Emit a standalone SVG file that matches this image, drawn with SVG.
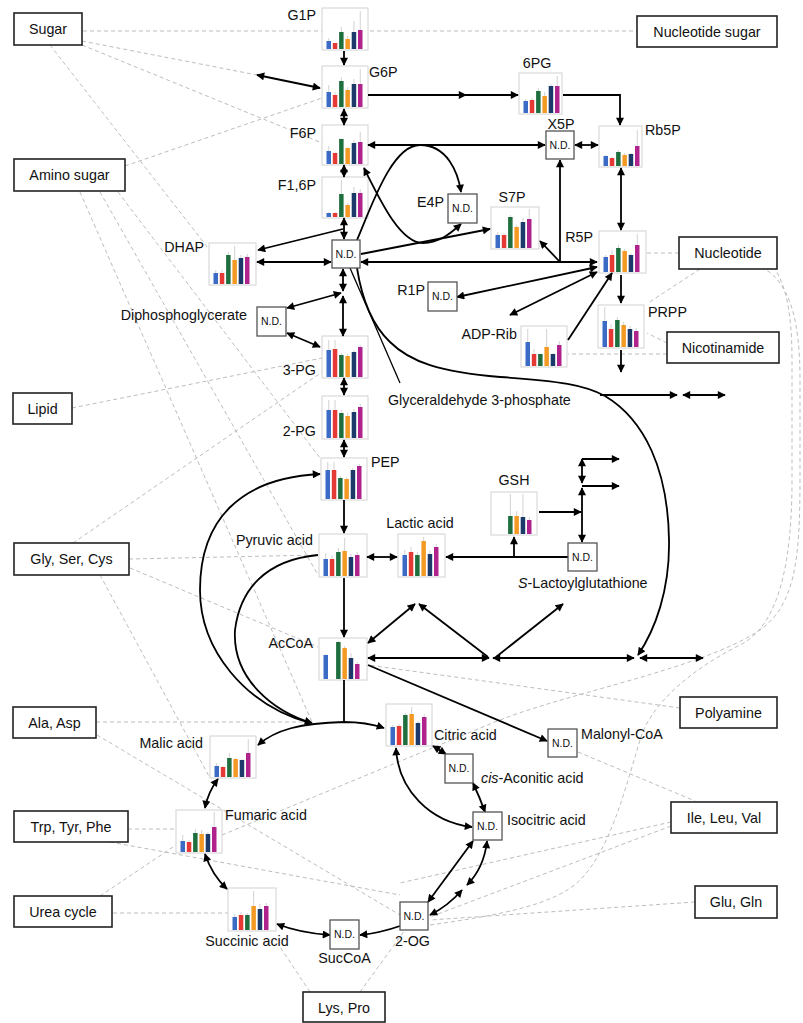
<svg xmlns="http://www.w3.org/2000/svg" width="803" height="1023" viewBox="0 0 803 1023">
<style>
text{font-family:"Liberation Sans",Arial,sans-serif;font-size:14.3px;fill:#111}
.nd text,text.nd{font-size:10.5px}
.cb{fill:#fff;stroke:#d2d2d2;stroke-width:1}
.er{stroke:#c6c6c6;stroke-width:0.8;fill:none}
.s1{stroke:#3b6bc4;stroke-width:4.5}.s2{stroke:#e53935;stroke-width:4.5}.s3{stroke:#1e6e3e;stroke-width:4.5}
.s4{stroke:#f29a24;stroke-width:4.5}.s5{stroke:#1b3a6a;stroke-width:4.5}.s6{stroke:#b0238c;stroke-width:4.5}
.ndb{fill:#fff;stroke:#555;stroke-width:1.3}
.lb{fill:#fff;stroke:#222;stroke-width:1.6}
.c{fill:none;stroke:#000;stroke-width:1.8}
.e{marker-end:url(#ah)}.b{marker-start:url(#ah);marker-end:url(#ah)}
.d{fill:none;stroke:#bdbdbd;stroke-width:1;stroke-dasharray:4 3}
</style>
<defs>
<marker id="ah" viewBox="0 0 10 10" refX="9" refY="5" markerWidth="9" markerHeight="8" markerUnits="userSpaceOnUse" orient="auto-start-reverse"><path d="M0,0L10,5L0,10z" fill="#000"/></marker>
</defs>

<g id="dashed">
<path class="d" d="M83,31L637,31"/>
<path class="d" d="M82,41L257,75"/>
<path class="d" d="M82,45L322,143"/>
<path class="d" d="M50,45L208,248"/>
<path class="d" d="M125,166L322,98"/>
<path class="d" d="M80,192L312,722"/>
<path class="d" d="M100,192L318,575"/>
<path class="d" d="M118,192L320,458"/>
<path class="d" d="M72,408L322,358"/>
<path class="d" d="M129,559L318,555"/>
<path class="d" d="M130,568L318,647"/>
<path class="d" d="M73,543L322,372"/>
<path class="d" d="M100,575L210,778"/>
<path class="d" d="M96,722L310,722"/>
<path class="d" d="M97,735L400,915"/>
<path class="d" d="M128,829L176,829"/>
<path class="d" d="M110,842L400,895"/>
<path class="d" d="M113,913L228,913"/>
<path class="d" d="M100,896L176,845"/>
<path class="d" d="M310,992L280,947"/>
<path class="d" d="M360,992L405,930"/>
<path class="d" d="M679,253L647,253"/>
<path class="d" d="M700,269L648,303"/>
<path class="d" d="M667,343L647,333"/>
<path class="d" d="M667,354L568,354"/>
<path class="d" d="M680,708L368,665"/>
<path class="d" d="M578,752L695,801"/>
<path class="d" d="M671,822L400,883"/>
<path class="d" d="M671,826L430,917"/>
<path class="d" d="M695,902L430,920"/>
<path class="d" d="M222,835L490,724C560,694 700,670 760,630C795,605 800,560 800,480L800,380C800,320 790,285 765,269"/>
<path class="d" d="M430,925C500,915 555,905 580,880C610,850 625,790 640,740C650,705 690,670 740,645C780,625 792,560 792,480L792,360C792,310 785,285 775,269"/>
</g>

<g id="charts">
<g id="G1P" transform="translate(322,8)"><rect class="cb" width="46" height="42"/><path class="er" d="M6.75,30V41M19.35,19V41M25.65,28V41M31.95,13V41M38.25,3V41"/><path class="s1" d="M6.75,41V33"/><path class="s2" d="M13.05,41V35"/><path class="s3" d="M19.35,41V24"/><path class="s4" d="M25.65,41V31"/><path class="s5" d="M31.95,41V24"/><path class="s6" d="M38.25,41V22"/></g>
<g id="G6P" transform="translate(322,66)"><rect class="cb" width="46" height="42"/><path class="er" d="M6.75,19V41M13.05,26V41M19.35,11V41M25.65,21V41M31.95,13V41M38.25,3V41"/><path class="s1" d="M6.75,41V26"/><path class="s2" d="M13.05,41V29"/><path class="s3" d="M19.35,41V15"/><path class="s4" d="M25.65,41V24"/><path class="s5" d="M31.95,41V18"/><path class="s6" d="M38.25,41V18"/></g>
<g id="F6P" transform="translate(322,125)"><rect class="cb" width="46" height="40"/><path class="er" d="M6.75,21V39M13.05,27V39M19.35,13V39M25.65,22V39M31.95,15V39M38.25,7V39"/><path class="s1" d="M6.75,39V26"/><path class="s2" d="M13.05,39V28"/><path class="s3" d="M19.35,39V14"/><path class="s4" d="M25.65,39V23"/><path class="s5" d="M31.95,39V18"/><path class="s6" d="M38.25,39V17"/></g>
<g id="F16P" transform="translate(322,177)"><rect class="cb" width="46" height="41"/><path class="er" d="M6.75,35V40M13.05,35V40M19.35,3V40M25.65,26V40M31.95,10V40M38.25,12V40"/><path class="s1" d="M6.75,40V36"/><path class="s2" d="M13.05,40V36"/><path class="s3" d="M19.35,40V17"/><path class="s4" d="M25.65,40V28"/><path class="s5" d="M31.95,40V16"/><path class="s6" d="M38.25,40V16"/></g>
<g id="DHAP" transform="translate(209,243)"><rect class="cb" width="47" height="42"/><path class="er" d="M6.75,27V41M13.05,27V41M19.35,9V41M25.65,3V41M31.95,12V41M38.25,11V41"/><path class="s1" d="M6.75,41V30"/><path class="s2" d="M13.05,41V30"/><path class="s3" d="M19.35,41V12"/><path class="s4" d="M25.65,41V17"/><path class="s5" d="M31.95,41V15"/><path class="s6" d="M38.25,41V14"/></g>
<g id="PG3" transform="translate(322,336)"><rect class="cb" width="46" height="42"/><path class="er" d="M6.75,4V41M13.05,4V41M19.35,17V41M25.65,18V41M31.95,14V41M38.25,9V41"/><path class="s1" d="M6.75,41V14"/><path class="s2" d="M13.05,41V13"/><path class="s3" d="M19.35,41V19"/><path class="s4" d="M25.65,41V20"/><path class="s5" d="M31.95,41V16"/><path class="s6" d="M38.25,41V11"/></g>
<g id="PG2" transform="translate(322,396)"><rect class="cb" width="46" height="43"/><path class="er" d="M6.75,4V42M13.05,4V42M19.35,14V42M25.65,17V42M31.95,13V42M38.25,8V42"/><path class="s1" d="M6.75,42V14"/><path class="s2" d="M13.05,42V14"/><path class="s3" d="M19.35,42V17"/><path class="s4" d="M25.65,42V20"/><path class="s5" d="M31.95,42V16"/><path class="s6" d="M38.25,42V11"/></g>
<g id="PEP" transform="translate(321,458)"><rect class="cb" width="46" height="42"/><path class="er" d="M6.75,4V41M13.05,4V41M19.35,18V41M25.65,19V41M31.95,10V41M38.25,6V41"/><path class="s1" d="M6.75,41V12"/><path class="s2" d="M13.05,41V12"/><path class="s3" d="M19.35,41V20"/><path class="s4" d="M25.65,41V21"/><path class="s5" d="M31.95,41V12"/><path class="s6" d="M38.25,41V8"/></g>
<g id="Pyruvic" transform="translate(319,534)"><rect class="cb" width="48" height="43"/><path class="er" d="M6.75,19V42M13.05,21V42M19.35,14V42M25.65,4V42M31.95,20V42M38.25,18V42"/><path class="s1" d="M6.75,42V25"/><path class="s2" d="M13.05,42V25"/><path class="s3" d="M19.35,42V18"/><path class="s4" d="M25.65,42V17"/><path class="s5" d="M31.95,42V23"/><path class="s6" d="M38.25,42V21"/></g>
<g id="AcCoA" transform="translate(319,638)"><rect class="cb" width="48" height="42"/><path class="er" d="M6.75,16V41M19.35,3V41M25.65,8V41M31.95,15V41M38.25,24V41"/><path class="s1" d="M6.75,41V17"/><path class="s3" d="M19.35,41V4"/><path class="s4" d="M25.65,41V10"/><path class="s5" d="M31.95,41V20"/><path class="s6" d="M38.25,41V26"/></g>
<g id="Lactic" transform="translate(398,534)"><rect class="cb" width="47" height="43"/><path class="er" d="M6.75,16V42M13.05,13V42M19.35,18V42M25.65,3V42M31.95,16V42M38.25,10V42"/><path class="s1" d="M6.75,42V21"/><path class="s2" d="M13.05,42V18"/><path class="s3" d="M19.35,42V21"/><path class="s4" d="M25.65,42V7"/><path class="s5" d="M31.95,42V20"/><path class="s6" d="M38.25,42V13"/></g>
<g id="GSH" transform="translate(491,492)"><rect class="cb" width="46" height="43"/><path class="er" d="M19.35,2V42M25.65,19V42M31.95,2V42M38.25,25V42"/><path class="s3" d="M19.35,42V24"/><path class="s4" d="M25.65,42V24"/><path class="s5" d="M31.95,42V25"/><path class="s6" d="M38.25,42V28"/></g>
<g id="Citric" transform="translate(386,704)"><rect class="cb" width="46" height="42"/><path class="er" d="M6.75,21V41M13.05,20V41M19.35,9V41M25.65,3V41M31.95,17V41M38.25,10V41"/><path class="s1" d="M6.75,41V23"/><path class="s2" d="M13.05,41V22"/><path class="s3" d="M19.35,41V11"/><path class="s4" d="M25.65,41V10"/><path class="s5" d="M31.95,41V19"/><path class="s6" d="M38.25,41V13"/></g>
<g id="Malic" transform="translate(210,736)"><rect class="cb" width="46" height="42"/><path class="er" d="M6.75,27V41M13.05,30V41M19.35,17V41M25.65,22V41M31.95,23V41M38.25,3V41"/><path class="s1" d="M6.75,41V30"/><path class="s2" d="M13.05,41V31"/><path class="s3" d="M19.35,41V22"/><path class="s4" d="M25.65,41V23"/><path class="s5" d="M31.95,41V24"/><path class="s6" d="M38.25,41V17"/></g>
<g id="Fumaric" transform="translate(176,810)"><rect class="cb" width="46" height="43"/><path class="er" d="M6.75,25V42M13.05,30V42M19.35,19V42M25.65,20V42M31.95,22V42M38.25,2V42"/><path class="s1" d="M6.75,42V31"/><path class="s2" d="M13.05,42V32"/><path class="s3" d="M19.35,42V23"/><path class="s4" d="M25.65,42V24"/><path class="s5" d="M31.95,42V24"/><path class="s6" d="M38.25,42V17"/></g>
<g id="Succinic" transform="translate(228,888)"><rect class="cb" width="48" height="43"/><path class="er" d="M6.75,26V42M13.05,24V42M19.35,25V42M25.65,3V42M31.95,16V42M38.25,15V42"/><path class="s1" d="M6.75,42V29"/><path class="s2" d="M13.05,42V27"/><path class="s3" d="M19.35,42V27"/><path class="s4" d="M25.65,42V18"/><path class="s5" d="M31.95,42V21"/><path class="s6" d="M38.25,42V18"/></g>
<g id="PG6" transform="translate(519,73)"><rect class="cb" width="43" height="41"/><path class="er" d="M6.75,26V40M13.05,25V40M19.35,15V40M25.65,19V40M31.95,11V40M38.25,3V40"/><path class="s1" d="M6.75,40V28"/><path class="s2" d="M13.05,40V27"/><path class="s3" d="M19.35,40V18"/><path class="s4" d="M25.65,40V23"/><path class="s5" d="M31.95,40V13"/><path class="s6" d="M38.25,40V13"/></g>
<g id="Rb5P" transform="translate(599,126)"><rect class="cb" width="43" height="41"/><path class="er" d="M6.75,29V40M13.05,31V40M19.35,24V40M25.65,27V40M31.95,27V40M38.25,4V40"/><path class="s1" d="M6.75,40V30"/><path class="s2" d="M13.05,40V32"/><path class="s3" d="M19.35,40V26"/><path class="s4" d="M25.65,40V29"/><path class="s5" d="M31.95,40V28"/><path class="s6" d="M38.25,40V20"/></g>
<g id="S7P" transform="translate(491,207)"><rect class="cb" width="48" height="42"/><path class="er" d="M6.75,25V41M13.05,26V41M19.35,8V41M25.65,18V41M31.95,11V41M38.25,2V41"/><path class="s1" d="M6.75,41V28"/><path class="s2" d="M13.05,41V28"/><path class="s3" d="M19.35,41V10"/><path class="s4" d="M25.65,41V20"/><path class="s5" d="M31.95,41V15"/><path class="s6" d="M38.25,41V12"/></g>
<g id="R5P" transform="translate(599,231)"><rect class="cb" width="47" height="42"/><path class="er" d="M6.75,24V41M13.05,19V41M19.35,14V41M25.65,18V41M31.95,22V41M38.25,3V41"/><path class="s1" d="M6.75,41V26"/><path class="s2" d="M13.05,41V24"/><path class="s3" d="M19.35,41V17"/><path class="s4" d="M25.65,41V20"/><path class="s5" d="M31.95,41V24"/><path class="s6" d="M38.25,41V14"/></g>
<g id="ADPRib" transform="translate(521,326)"><rect class="cb" width="46" height="41"/><path class="er" d="M6.75,3V40M13.05,23V40M19.35,28V40M25.65,3V40M31.95,27V40M38.25,15V40"/><path class="s1" d="M6.75,40V16"/><path class="s2" d="M13.05,40V28"/><path class="s3" d="M19.35,40V28"/><path class="s4" d="M25.65,40V21"/><path class="s5" d="M31.95,40V28"/><path class="s6" d="M38.25,40V19"/></g>
<g id="PRPP" transform="translate(598,305)"><rect class="cb" width="46" height="43"/><path class="er" d="M6.75,2V42M13.05,19V42M19.35,12V42M25.65,17V42M31.95,21V42M38.25,23V42"/><path class="s1" d="M6.75,42V16"/><path class="s2" d="M13.05,42V24"/><path class="s3" d="M19.35,42V15"/><path class="s4" d="M25.65,42V20"/><path class="s5" d="M31.95,42V24"/><path class="s6" d="M38.25,42V26"/></g>
</g>

<g id="connectors">
<path class="c e" d="M344,51L344,65"/>
<path class="c b" d="M257,75L320,88"/>
<path class="c b" d="M344,109L344,125"/>
<path class="c b" d="M344,165L344,177"/>
<path class="c b" d="M344,218L344,239"/>
<path class="c e" d="M343,229L258,250"/>
<path class="c b" d="M257,262L331,262"/>
<path class="c e" d="M368,95L466,95"/>
<path class="c e" d="M466,95L518,95"/>
<path class="c e" d="M563,95L620,95L620,125"/>
<path class="c b" d="M368,145L545,145"/>
<path class="c b" d="M575,145L598,145"/>
<path class="c b" d="M621,168L621,230"/>
<path class="c e" d="M560,262L560,160"/>
<path class="c e" d="M560,262L540,241"/>
<path class="c b" d="M361,262L597,262"/>
<path class="c e" d="M361,254L490,229"/>
<path class="c e" d="M357,240C372,205 392,145 420,145C447,145 458,172 461,192"/>
<path class="c b" d="M364,168C380,200 400,243 423,243C440,243 452,232 461,224"/>
<path class="c b" d="M457,297L597,267"/>
<path class="c b" d="M510,315L597,272"/>
<path class="c e" d="M568,340L612,273"/>
<path class="c e" d="M621,275L621,303"/>
<path class="c e" d="M621,350L621,372"/>
<path class="c b" d="M343,269L343,291"/>
<path class="c b" d="M343,296L343,336"/>
<path class="c b" d="M287,308L341,293"/>
<path class="c b" d="M287,333L320,347"/>
<path class="c b" d="M344,378L344,395"/>
<path class="c b" d="M344,440L344,457"/>
<path class="c e" d="M344,500L344,533"/>
<path class="c e" d="M344,578L344,637"/>
<path class="c b" d="M367,557L397,557"/>
<path class="c e" d="M568,557L446,557"/>
<path class="c e" d="M514,557L514,537"/>
<path class="c e" d="M539,512L581,512"/>
<path class="c b" d="M582,488L582,542"/>
<path class="c b" d="M582,459L582,483"/>
<path class="c e" d="M582,459L619,459"/>
<path class="c e" d="M582,486L619,486"/>
<path class="c" style="stroke-width:1.3" d="M350,268L400,383"/>
<path class="c e" d="M357,268C362,300 372,325 390,342C410,362 440,372 500,377C560,381 585,385 605,396C645,420 668,470 669,540C670,590 655,630 638,655"/>
<path class="c e" d="M600,395L677,395"/>
<path class="c b" d="M683,395L725,395"/>
<path class="c b" d="M368,658L489,658"/>
<path class="c b" d="M493,658L634,658"/>
<path class="c b" d="M640,658L703,658"/>
<path class="c b" d="M368,643L415,604"/>
<path class="c e" d="M488,657L419,604"/>
<path class="c e" d="M496,657L563,604"/>
<path class="c e" d="M368,665L547,741"/>
<path class="c" d="M344,680L344,722"/>
<path class="c b" d="M258,745C275,730 300,723 344,722C360,722 372,724 384,728"/>
<path class="c e" d="M318,555C265,560 240,590 235,630C232,680 275,712 312,723"/>
<path class="c e" d="M310,723C245,705 200,650 200,590C200,520 240,478 320,474"/>
<path class="c b" d="M218,779Q208,792 205,808"/>
<path class="c b" d="M205,854Q212,875 227,889"/>
<path class="c b" d="M277,924Q300,933 330,935"/>
<path class="c e" d="M400,926Q380,933 360,935"/>
<path class="c b" d="M433,746L446,754"/>
<path class="c b" d="M473,783Q480,798 485,812"/>
<path class="c b" d="M396,748C398,790 430,822 472,827"/>
<path class="c b" d="M473,841L428,902"/>
<path class="c b" d="M487,841Q484,868 467,885"/>
<path class="c b" d="M462,890Q448,906 430,915"/>
</g>

<g id="nd-nodes" class="nd">
<g id="G3P"><rect class="ndb" x="332" y="240" width="28" height="28"/><text x="346" y="258" text-anchor="middle">N.D.</text></g>
<g id="DPG"><rect class="ndb" x="257" y="307" width="29" height="29"/><text x="271.5" y="325" text-anchor="middle">N.D.</text></g>
<g id="E4P"><rect class="ndb" x="448" y="194" width="29" height="29"/><text x="462.5" y="212" text-anchor="middle">N.D.</text></g>
<g id="X5P"><rect class="ndb" x="546" y="131" width="28" height="28"/><text x="560" y="149" text-anchor="middle">N.D.</text></g>
<g id="R1P"><rect class="ndb" x="428" y="282" width="29" height="29"/><text x="442.5" y="300" text-anchor="middle">N.D.</text></g>
<g id="SLG"><rect class="ndb" x="568" y="543" width="29" height="28"/><text x="582.5" y="561" text-anchor="middle">N.D.</text></g>
<g id="MalCoA"><rect class="ndb" x="548" y="729" width="29" height="28"/><text x="562.5" y="747" text-anchor="middle">N.D.</text></g>
<g id="cisAco"><rect class="ndb" x="445" y="754" width="28" height="29"/><text x="459" y="772" text-anchor="middle">N.D.</text></g>
<g id="Isocit"><rect class="ndb" x="473" y="812" width="29" height="28"/><text x="487.5" y="830" text-anchor="middle">N.D.</text></g>
<g id="OG2"><rect class="ndb" x="400" y="902" width="28" height="28"/><text x="414" y="920" text-anchor="middle">N.D.</text></g>
<g id="SucCoA"><rect class="ndb" x="330" y="920" width="29" height="29"/><text x="344.5" y="938" text-anchor="middle">N.D.</text></g>
</g>

<g id="labels">
<text x="316" y="20" text-anchor="end">G1P</text>
<text x="369" y="77">G6P</text>
<text x="316" y="138" text-anchor="end">F6P</text>
<text x="316" y="190" text-anchor="end">F1,6P</text>
<text x="204" y="252" text-anchor="end">DHAP</text>
<text x="247" y="320" text-anchor="end">Diphosphoglycerate</text>
<text x="316" y="375" text-anchor="end">3-PG</text>
<text x="316" y="436" text-anchor="end">2-PG</text>
<text x="371" y="467">PEP</text>
<text x="313" y="545" text-anchor="end">Pyruvic acid</text>
<text x="420" y="528" text-anchor="middle">Lactic acid</text>
<text x="313" y="648" text-anchor="end">AcCoA</text>
<text x="514" y="485" text-anchor="middle">GSH</text>
<text x="518" y="588"><tspan font-style="italic">S</tspan>-Lactoylglutathione</text>
<text x="388" y="405">Glyceraldehyde 3-phosphate</text>
<text x="434" y="740">Citric acid</text>
<text x="581" y="739">Malonyl-CoA</text>
<text x="481" y="783"><tspan font-style="italic">cis</tspan>-Aconitic acid</text>
<text x="507" y="825">Isocitric acid</text>
<text x="395" y="946">2-OG</text>
<text x="344.5" y="963" text-anchor="middle">SucCoA</text>
<text x="247" y="946" text-anchor="middle">Succinic acid</text>
<text x="225" y="820">Fumaric acid</text>
<text x="203" y="748" text-anchor="end">Malic acid</text>
<text x="537" y="68" text-anchor="middle">6PG</text>
<text x="561" y="129" text-anchor="middle">X5P</text>
<text x="645" y="135">Rb5P</text>
<text x="444" y="207" text-anchor="end">E4P</text>
<text x="512" y="202" text-anchor="middle">S7P</text>
<text x="593" y="242" text-anchor="end">R5P</text>
<text x="425" y="295" text-anchor="end">R1P</text>
<text x="517" y="339" text-anchor="end">ADP-Rib</text>
<text x="648" y="317">PRPP</text>
</g>

<g id="Sugar"><rect class="lb" x="14" y="13" width="68" height="32"/><text x="48" y="34" text-anchor="middle">Sugar</text></g>
<g id="NucleotideSugar"><rect class="lb" x="637" y="16" width="140" height="31"/><text x="707" y="37" text-anchor="middle">Nucleotide sugar</text></g>
<g id="AminoSugar"><rect class="lb" x="14" y="159" width="111" height="32"/><text x="69.5" y="180" text-anchor="middle">Amino sugar</text></g>
<g id="Lipid"><rect class="lb" x="13" y="393" width="59" height="31"/><text x="42.5" y="414" text-anchor="middle">Lipid</text></g>
<g id="Nucleotide"><rect class="lb" x="679" y="237" width="98" height="32"/><text x="728" y="258" text-anchor="middle">Nucleotide</text></g>
<g id="Nicotinamide"><rect class="lb" x="667" y="332" width="112" height="31"/><text x="723" y="353" text-anchor="middle">Nicotinamide</text></g>
<g id="GlySerCys"><rect class="lb" x="14" y="543" width="115" height="32"/><text x="71.5" y="564" text-anchor="middle">Gly, Ser, Cys</text></g>
<g id="AlaAsp"><rect class="lb" x="13" y="707" width="83" height="31"/><text x="54.5" y="728" text-anchor="middle">Ala, Asp</text></g>
<g id="Polyamine"><rect class="lb" x="680" y="697" width="97" height="31"/><text x="728.5" y="718" text-anchor="middle">Polyamine</text></g>
<g id="TrpTyrPhe"><rect class="lb" x="14" y="811" width="114" height="31"/><text x="71" y="832" text-anchor="middle">Trp, Tyr, Phe</text></g>
<g id="Urea"><rect class="lb" x="14" y="896" width="98" height="31"/><text x="63" y="917" text-anchor="middle">Urea cycle</text></g>
<g id="LysPro"><rect class="lb" x="303" y="992" width="82" height="30"/><text x="344" y="1013" text-anchor="middle">Lys, Pro</text></g>
<g id="IleLeuVal"><rect class="lb" x="671" y="802" width="106" height="31"/><text x="724" y="823" text-anchor="middle">Ile, Leu, Val</text></g>
<g id="GluGln"><rect class="lb" x="695" y="886" width="82" height="32"/><text x="736" y="907" text-anchor="middle">Glu, Gln</text></g>
</svg>
